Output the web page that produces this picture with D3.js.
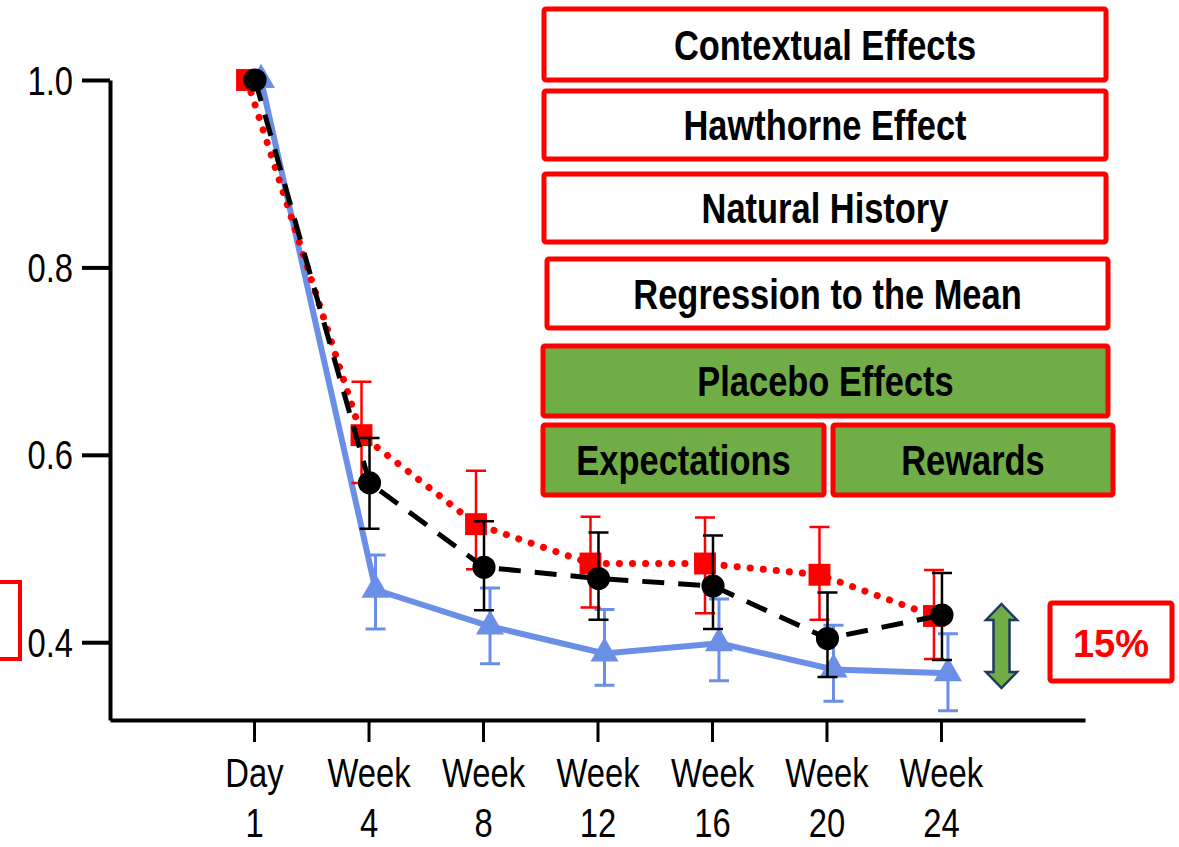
<!DOCTYPE html>
<html>
<head>
<meta charset="utf-8">
<script src="https://cdn.jsdelivr.net/npm/d3@7"></script>
<style>
  body { margin: 0; background: #fff; }
  text { font-family: "Liberation Sans", Arial, sans-serif; }
</style>
</head>
<body>
<div class="chart"></div>
<script>
const categories = ['Day 1', 'Week 4', 'Week 8', 'Week 12', 'Week 16', 'Week 20', 'Week 24'];
const tickLabels = [['Day', '1'], ['Week', '4'], ['Week', '8'], ['Week', '12'], ['Week', '16'], ['Week', '20'], ['Week', '24']];
const yTicks = [0.4, 0.6, 0.8, 1.0];

// red dotted series (squares)
const redValues = [1.0, 0.621, 0.526, 0.484, 0.484, 0.472, 0.428];
const redLow = [null, 0.570, 0.478, 0.437, 0.431, 0.424, 0.382];
const redHigh = [null, 0.678, 0.583, 0.534, 0.533, 0.523, 0.477];

// black dashed series (circles)
const blackValues = [1.0, 0.570, 0.480, 0.468, 0.460, 0.404, 0.429];
const blackLow = [null, 0.521, 0.434, 0.424, 0.414, 0.363, 0.381];
const blackHigh = [null, 0.618, 0.529, 0.517, 0.514, 0.453, 0.474];

// blue solid series (triangles)
const blueValues = [1.0, 0.456, 0.417, 0.388, 0.399, 0.371, 0.367];
const blueLow = [null, 0.414, 0.377, 0.354, 0.359, 0.337, 0.327];
const blueHigh = [null, 0.493, 0.458, 0.435, 0.446, 0.418, 0.409];

const boxLabels = ['Contextual Effects', 'Hawthorne Effect', 'Natural History', 'Regression to the Mean',
  'Placebo Effects', 'Expectations', 'Rewards'];
const diffLabel = '15%';

const svgWidth = 1179,
  svgHeight = 847,
  axisLeftX = 110,
  axisRightX = 1085,
  axisTop = 80,
  axisBottom = 720,
  narrow = 0.82; // no narrow font installed, squeeze the text instead

const red = '#ff0000',
  blue = '#6b8fe6',
  green = '#70ad47';

const svg = d3.select('.chart')
  .append('svg')
  .attr('width', svgWidth)
  .attr('height', svgHeight);

const yScale = d3.scaleLinear()
  .domain([0.317, 1.0])
  .range([axisBottom, axisTop]);

const xScale = d3.scalePoint()
  .domain(categories)
  .range([axisLeftX, axisRightX])
  .padding(1.258);

const yAxis = d3.axisLeft(yScale)
  .tickValues(yTicks)
  .tickFormat(d3.format('.1f'))
  .tickSize(28)
  .tickSizeOuter(0);

const xAxis = d3.axisBottom(xScale)
  .tickSize(22)
  .tickSizeOuter(0)
  .tickFormat('');

const gy = svg.append('g')
  .attr('transform', `translate(${axisLeftX}, 0)`)
  .call(yAxis);
gy.select('.domain').attr('stroke-width', 4);
gy.selectAll('.tick line').attr('stroke-width', 4);
gy.selectAll('.tick text')
  .attr('x', null)
  .attr('dy', null)
  .attr('transform', `translate(-37, 14) scale(${narrow}, 1)`)
  .attr('fill', '#000')
  .style('font-size', '40px');

const gx = svg.append('g')
  .attr('transform', `translate(0, ${axisBottom})`)
  .call(xAxis);
gx.select('.domain').attr('stroke-width', 4);
gx.selectAll('.tick line').attr('stroke-width', 3);
gx.selectAll('.tick text').remove();
gx.selectAll('.tick').each(function(d, i) {
  const t = d3.select(this).append('text')
    .attr('text-anchor', 'middle')
    .attr('fill', '#000')
    .attr('transform', `scale(${narrow}, 1)`)
    .style('font-size', '40px');
  t.append('tspan').attr('x', 0).attr('y', 67).text(tickLabels[i][0]);
  t.append('tspan').attr('x', 0).attr('y', 117).text(tickLabels[i][1]);
});

// annotation boxes
const boxLayout = [
  { x: 544, y: 9, w: 562, h: 71, fill: '#fff' },
  { x: 544, y: 91, w: 562, h: 68, fill: '#fff' },
  { x: 544, y: 174, w: 562, h: 68, fill: '#fff' },
  { x: 547, y: 259, w: 561, h: 69, fill: '#fff' },
  { x: 543, y: 346, w: 565, h: 70, fill: green },
  { x: 543, y: 425, w: 281, h: 70, fill: green },
  { x: 833, y: 425, w: 280, h: 70, fill: green }
];

const boxes = svg.append('g').selectAll('g')
  .data(boxLabels)
  .join('g');
boxes.append('rect')
  .attr('x', (d, i) => boxLayout[i].x)
  .attr('y', (d, i) => boxLayout[i].y)
  .attr('width', (d, i) => boxLayout[i].w)
  .attr('height', (d, i) => boxLayout[i].h)
  .attr('rx', 2)
  .attr('fill', (d, i) => boxLayout[i].fill)
  .attr('stroke', red)
  .attr('stroke-width', 5);
boxes.append('text')
  .attr('transform', (d, i) =>
    `translate(${boxLayout[i].x + boxLayout[i].w / 2}, ${boxLayout[i].y + boxLayout[i].h / 2 + 15}) scale(${narrow}, 1)`)
  .attr('text-anchor', 'middle')
  .style('font-size', '42px')
  .style('font-weight', 'bold')
  .text(d => d);

// series
const series = [
  { values: blueValues, low: blueLow, high: blueHigh, color: blue, dx: 7, width: 6, dash: null, cap: 'butt', errWidth: 3, marker: d3.symbolTriangle, size: 340 },
  { values: redValues, low: redLow, high: redHigh, color: red, dx: -7, width: 7, dash: '0.1 13', cap: 'round', errWidth: 2.5, marker: d3.symbolSquare, size: 480 },
  { values: blackValues, low: blackLow, high: blackHigh, color: '#000', dx: 1, width: 5, dash: '22 14', cap: 'butt', errWidth: 2.5, marker: d3.symbolCircle, size: 420 }
];

series.forEach(s => {
  const g = svg.append('g');
  const xPos = i => xScale(categories[i]) + s.dx;

  // error bars
  const errIdx = d3.range(categories.length).filter(i => s.low[i] != null);
  g.selectAll('.err')
    .data(errIdx)
    .join('path')
    .attr('fill', 'none')
    .attr('stroke', s.color)
    .attr('stroke-width', s.errWidth)
    .attr('d', i => {
      const x = xPos(i), y0 = yScale(s.low[i]), y1 = yScale(s.high[i]);
      return `M${x - 10},${y1}H${x + 10}M${x},${y1}V${y0}M${x - 10},${y0}H${x + 10}`;
    });

  const line = d3.line()
    .x((d, i) => xPos(i))
    .y(d => yScale(d));

  g.append('path')
    .datum(s.values)
    .attr('fill', 'none')
    .attr('stroke', s.color)
    .attr('stroke-width', s.width)
    .attr('stroke-dasharray', s.dash)
    .attr('stroke-linecap', s.cap)
    .attr('d', line);

  g.selectAll('.mark')
    .data(s.values)
    .join('path')
    .attr('transform', (d, i) => `translate(${xPos(i)}, ${yScale(d)})`)
    .attr('fill', s.color)
    .attr('d', d3.symbol().type(s.marker).size(s.size));
});

// difference arrow
const ax = 1001.5, aTop = 604, aBot = 688, hw = 15.5, sw = 8, hh = 16;
svg.append('path')
  .attr('d', `M${ax},${aTop}L${ax + hw},${aTop + hh}L${ax + sw},${aTop + hh}L${ax + sw},${aBot - hh}` +
    `L${ax + hw},${aBot - hh}L${ax},${aBot}L${ax - hw},${aBot - hh}L${ax - sw},${aBot - hh}` +
    `L${ax - sw},${aTop + hh}L${ax - hw},${aTop + hh}Z`)
  .attr('fill', green)
  .attr('stroke', '#1f3864')
  .attr('stroke-width', 2.5);

svg.append('rect')
  .attr('x', 1050)
  .attr('y', 603)
  .attr('width', 122)
  .attr('height', 78)
  .attr('rx', 2)
  .attr('fill', '#fff')
  .attr('stroke', red)
  .attr('stroke-width', 5);
svg.append('text')
  .attr('x', 1111)
  .attr('y', 657)
  .attr('text-anchor', 'middle')
  .attr('fill', red)
  .style('font-size', '38px')
  .style('font-weight', 'bold')
  .text(diffLabel);

// partial box cut off at left edge
svg.append('rect')
  .attr('x', -40)
  .attr('y', 582)
  .attr('width', 60)
  .attr('height', 77)
  .attr('fill', 'none')
  .attr('stroke', red)
  .attr('stroke-width', 4);
</script>
</body>
</html>
